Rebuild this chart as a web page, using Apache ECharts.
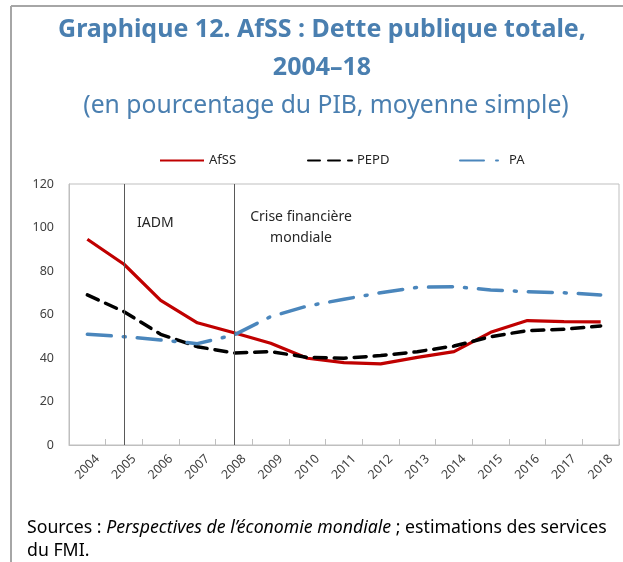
<!DOCTYPE html>
<html>
<head>
<meta charset="utf-8">
<script src="https://cdn.jsdelivr.net/npm/echarts@6/dist/echarts.min.js"></script>
<style>
  html, body { margin: 0; padding: 0; background: #fff; }
  #chart { width: 623px; height: 562px; }
</style>
</head>
<body>
<div id="chart"></div>
<script>
var years = ['2004', '2005', '2006', '2007', '2008', '2009', '2010', '2011',
    '2012', '2013', '2014', '2015', '2016', '2017', '2018'];
var afss = [94.6, 83.1, 66.5, 56.2, 51.6, 46.8, 39.9, 37.9, 37.3, 40.3, 42.9, 51.8, 57.2, 56.7, 56.6];
var pepd = [69.0, 61.3, 50.9, 45.2, 42.3, 42.9, 40.3, 39.9, 41.1, 42.9, 45.5, 49.8, 52.6, 53.2, 54.7];
var pa = [50.9, 49.8, 48.3, 46.6, 50.6, 59.0, 63.9, 67.0, 70.0, 72.5, 72.8, 71.3, 70.5, 70.0, 69.0];
var yTicks = [0, 20, 40, 60, 80, 100, 120];
var eventYears = ['2005', '2008'];

var titleBlue = '#4a7fb0';
var font = 'Noto Sans';

var chart = echarts.init(document.getElementById('chart'));

function legendItem(name, left) {
    return {
        data: [name],
        left: left,
        top: 149,
        itemWidth: 44,
        itemHeight: 14,
        itemGap: 4,
        itemStyle: { opacity: 0 },
        textStyle: { fontFamily: font, fontSize: 13, color: '#262626' }
    };
}

function titleLine(text, top, size, weight, cx) {
    return {
        text: text,
        left: cx,
        top: top,
        textAlign: 'center',
        textStyle: { fontFamily: font, fontSize: size, fontWeight: weight, color: titleBlue }
    };
}

var option = {
    backgroundColor: '#fff',
    animation: false,
    title: [
        titleLine('Graphique 12. AfSS : Dette publique totale,', 12, 25, 'bold', 317),
        titleLine('2004–18', 50, 25, 'bold', 317),
        titleLine('(en pourcentage du PIB, moyenne simple)', 88, 24.7, 'normal', 321)
    ],
    legend: [legendItem('AfSS', 154), legendItem('PEPD', 302), legendItem('PA', 454)],
    grid: {
        left: 69, top: 184, width: 550, height: 261,
        show: true, borderColor: '#bfbfbf', borderWidth: 1,
        containLabel: false
    },
    xAxis: {
        type: 'category',
        data: years,
        boundaryGap: true,
        axisLine: { lineStyle: { color: '#bfbfbf' } },
        axisTick: { show: true, inside: true, length: 6, lineStyle: { color: '#bfbfbf' } },
        axisLabel: {
            rotate: 45, interval: 0, margin: 22,
            align: 'center', verticalAlign: 'middle',
            fontFamily: font, fontSize: 12.5, color: '#404040'
        }
    },
    yAxis: {
        type: 'value',
        min: 0, max: 120, interval: 20,
        axisLine: { show: true, lineStyle: { color: '#bfbfbf' } },
        axisTick: { show: false },
        splitLine: { show: false },
        axisLabel: {
            margin: 15, fontFamily: font, fontSize: 12.5, color: '#404040',
            formatter: function (v) { return yTicks.indexOf(v) >= 0 ? v : ''; }
        }
    },
    series: [{
        name: 'AfSS',
        type: 'line',
        data: afss,
        symbol: 'none',
        z: 2,
        itemStyle: { color: '#c00000' },
        lineStyle: { color: '#c00000', width: 3.2 },
        markLine: {
            silent: true,
            symbol: 'none',
            label: { show: false },
            lineStyle: { color: '#595959', width: 1, type: 'solid' },
            data: eventYears.map(function (y) { return { xAxis: y }; })
        }
    }, {
        name: 'PEPD',
        type: 'line',
        data: pepd,
        symbol: 'none',
        z: 3,
        itemStyle: { color: '#000' },
        lineStyle: { color: '#000', width: 3.5, type: [12, 8], cap: 'round' }
    }, {
        name: 'PA',
        type: 'line',
        data: pa,
        symbol: 'none',
        z: 4,
        itemStyle: { color: '#4a86bc' },
        lineStyle: { color: '#4a86bc', width: 3.5, type: [24, 12, 2, 12], cap: 'round' }
    }],
    graphic: [{
        type: 'line', silent: true,
        shape: { x1: 11, y1: 6, x2: 623, y2: 6 },
        style: { stroke: '#a6a6a6', lineWidth: 2 }
    }, {
        type: 'line', silent: true,
        shape: { x1: 11, y1: 6, x2: 11, y2: 562 },
        style: { stroke: '#a6a6a6', lineWidth: 2 }
    }, {
        type: 'text', x: 137, y: 216,
        style: { text: 'IADM', font: '14px "Noto Sans"', fill: '#262626' }
    }, {
        type: 'text', x: 301, y: 207,
        style: { text: 'Crise financière\nmondiale', font: '14px "Noto Sans"', fill: '#262626',
            align: 'center', lineHeight: 21 }
    }, {
        type: 'text', x: 27, y: 516,
        style: {
            text: '{n|Sources : }{i|Perspectives de l’économie mondiale}{n| ; estimations des services}\n{n|du FMI.}',
            rich: {
                n: { fontFamily: font, fontSize: 17.7, color: '#000', lineHeight: 23 },
                i: { fontFamily: font, fontSize: 17.7, fontStyle: 'italic', color: '#000', lineHeight: 23 }
            }
        }
    }]
};

chart.setOption(option);
</script>
</body>
</html>
